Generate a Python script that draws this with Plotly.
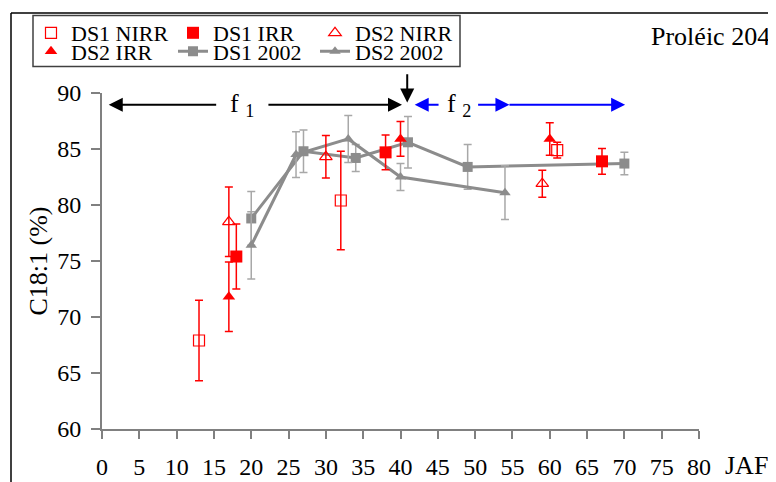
import plotly.graph_objects as go

# ---- data ----
ds1_nirr_x = [13, 32, 61]
ds1_nirr_y = [67.9, 80.4, 84.9]
ds1_nirr_e = [3.6, 4.4, 0.7]

ds1_irr_x = [18, 38, 67]
ds1_irr_y = [75.4, 84.7, 83.9]
ds1_irr_e = [2.9, 1.55, 1.15]

ds2_nirr_x = [17, 30, 59]
ds2_nirr_y = [78.5, 84.3, 81.9]
ds2_nirr_e = [3.1, 1.9, 1.2]

ds2_irr_x = [17, 40, 60]
ds2_irr_y = [71.8, 85.9, 85.9]
ds2_irr_e = [3.1, 1.55, 1.45]

ds1_2002_x = [20, 27, 34, 41, 49, 70]
ds1_2002_y = [78.8, 84.8, 84.2, 85.6, 83.4, 83.7]
ds1_2002_e = [2.4, 1.9, 1.2, 2.3, 2.0, 1.0]

ds2_2002_x = [20, 26, 33, 40, 54]
ds2_2002_y = [76.4, 84.5, 85.9, 82.5, 81.1]
ds2_2002_e = [3.0, 2.05, 2.1, 1.2, 2.4]

x_ticks = list(range(0, 81, 5))
y_ticks = list(range(60, 91, 5))

FONT = "Liberation Serif"
RED = "#ff0000"
GRAY = "#8c8c8c"
EGRAY = "#a8a8a8"


def eb(arr, color):
    return dict(type="data", array=arr, visible=True, color=color, thickness=1.5, width=4)


fig = go.Figure()

# gray lines first (drawn under red)
fig.add_trace(go.Scatter(x=ds1_2002_x, y=ds1_2002_y, mode="lines+markers", name="DS1 2002",
                         line=dict(color=GRAY, width=3),
                         marker=dict(symbol="square", size=10, color=GRAY),
                         error_y=eb(ds1_2002_e, EGRAY), legend="legend2", legendrank=2))
fig.add_trace(go.Scatter(x=ds2_2002_x, y=ds2_2002_y, mode="lines+markers", name="DS2 2002",
                         line=dict(color=GRAY, width=3),
                         marker=dict(symbol="triangle-up", size=10, color=GRAY),
                         error_y=eb(ds2_2002_e, EGRAY), legend="legend2", legendrank=3))

fig.add_trace(go.Scatter(x=ds1_nirr_x, y=ds1_nirr_y, mode="markers", name="DS1 NIRR",
                         marker=dict(symbol="square-open", size=11, color=RED, line=dict(width=1.2)),
                         error_y=eb(ds1_nirr_e, RED), legend="legend", legendrank=1))
fig.add_trace(go.Scatter(x=ds1_irr_x, y=ds1_irr_y, mode="markers", name="DS1 IRR",
                         marker=dict(symbol="square", size=12, color=RED),
                         error_y=eb(ds1_irr_e, RED), legend="legend", legendrank=2))
fig.add_trace(go.Scatter(x=ds2_nirr_x, y=ds2_nirr_y, mode="markers", name="DS2 NIRR",
                         marker=dict(symbol="triangle-up-open", size=11, color=RED, line=dict(width=1.2)),
                         error_y=eb(ds2_nirr_e, RED), legend="legend", legendrank=3))
fig.add_trace(go.Scatter(x=ds2_irr_x, y=ds2_irr_y, mode="markers", name="DS2 IRR",
                         marker=dict(symbol="triangle-up", size=11, color=RED),
                         error_y=eb(ds2_irr_e, RED), legend="legend2", legendrank=1))

# ---- layout geometry ----
# the page body adds an 8px offset, so the figure is 8px smaller than the window
OFF = 8
W, H = 776 - OFF, 482 - OFF
ML, MT = 102 - OFF, 93 - OFF
PW, PH = 597, 336
MR, MB = W - ML - PW, H - MT - PH


def px(xs):  # screen x -> paper
    return (xs - OFF - ML) / PW


def py(ys):  # screen y -> paper
    return (MT + PH - (ys - OFF)) / PH


leg_common = dict(orientation="h", font=dict(family=FONT, size=22, color="black"),
                  bgcolor="rgba(0,0,0,0)", borderwidth=0, entrywidth=97,
                  xanchor="left", yanchor="middle", traceorder="normal",
                  itemclick=False)

axis_common = dict(showgrid=False, zeroline=False, showline=True, linecolor="#808080", linewidth=2,
                   ticks="outside", tickcolor="#808080", tickwidth=1.5, automargin=False,
                   tickfont=dict(family=FONT, size=24, color="black"))

fig.update_layout(
    width=W, height=H,
    margin=dict(l=ML, r=MR, t=MT, b=MB, autoexpand=False),
    paper_bgcolor="white", plot_bgcolor="white",
    font=dict(family=FONT, size=22, color="black"),
    showlegend=True,
    legend=dict(x=px(31), y=py(33), **leg_common),
    legend2=dict(x=px(31), y=py(51.5), **leg_common),
    xaxis=dict(range=[0, 80], tickvals=x_ticks, ticktext=[str(v) for v in x_ticks],
               ticklen=8, ticklabelstandoff=7, **axis_common),
    yaxis=dict(range=[60, 90], tickvals=y_ticks, ticklen=9, ticklabelstandoff=5,
               title=dict(text="C18:1 (%)", font=dict(family=FONT, size=26, color="black"), standoff=2),
               **axis_common),
)

# frame and legend box
shapes = [
    dict(type="line", xref="paper", yref="paper", x0=px(11), x1=px(800), y0=py(13), y1=py(13),
         line=dict(color="black", width=1.5)),
    dict(type="line", xref="paper", yref="paper", x0=px(11), x1=px(11), y0=py(13), y1=py(500),
         line=dict(color="black", width=1.5)),
    dict(type="rect", xref="paper", yref="paper", x0=px(33), x1=px(460), y0=py(66.5), y1=py(15.5),
         line=dict(color="#404040", width=1.5), fillcolor="rgba(0,0,0,0)"),
]
fig.update_layout(shapes=shapes)

# arrows (phases f1 / f2)
ya = 88.96
arrows = [
    (15.5, ya, 0.9, ya, "black"),
    (22.1, ya, 40.2, ya, "black"),
    (40.9, 91.8, 40.9, 89.15, "black"),
    (45.3, ya, 41.9, ya, "blue"),
    (50.2, ya, 54.6, ya, "blue"),
    (54.4, ya, 70.1, ya, "blue"),
]
annotations = []
for tx, ty, hx, hy, c in arrows:
    annotations.append(dict(x=hx, y=hy, ax=tx, ay=ty, xref="x", yref="y", axref="x", ayref="y",
                            text="", showarrow=True, arrowhead=2, arrowsize=1.4, arrowwidth=2,
                            arrowcolor=c, standoff=0, startstandoff=0))
annotations += [
    dict(x=18.8, y=ya, xref="x", yref="y", text="f <sub>1</sub>", showarrow=False,
         font=dict(family=FONT, size=26, color="black")),
    dict(x=47.9, y=ya, xref="x", yref="y", text="f <sub>2</sub>", showarrow=False,
         font=dict(family=FONT, size=26, color="black")),
    dict(x=px(746), y=py(465), xref="paper", yref="paper", text="JAF", showarrow=False,
         xanchor="center", yanchor="middle", font=dict(family=FONT, size=26, color="black")),
    dict(x=px(772), y=py(37), xref="paper", yref="paper", text="Proléic 204", showarrow=False,
         xanchor="right", yanchor="middle", font=dict(family=FONT, size=26, color="black")),
]
fig.update_layout(annotations=annotations)

fig.write_html("out.html")
